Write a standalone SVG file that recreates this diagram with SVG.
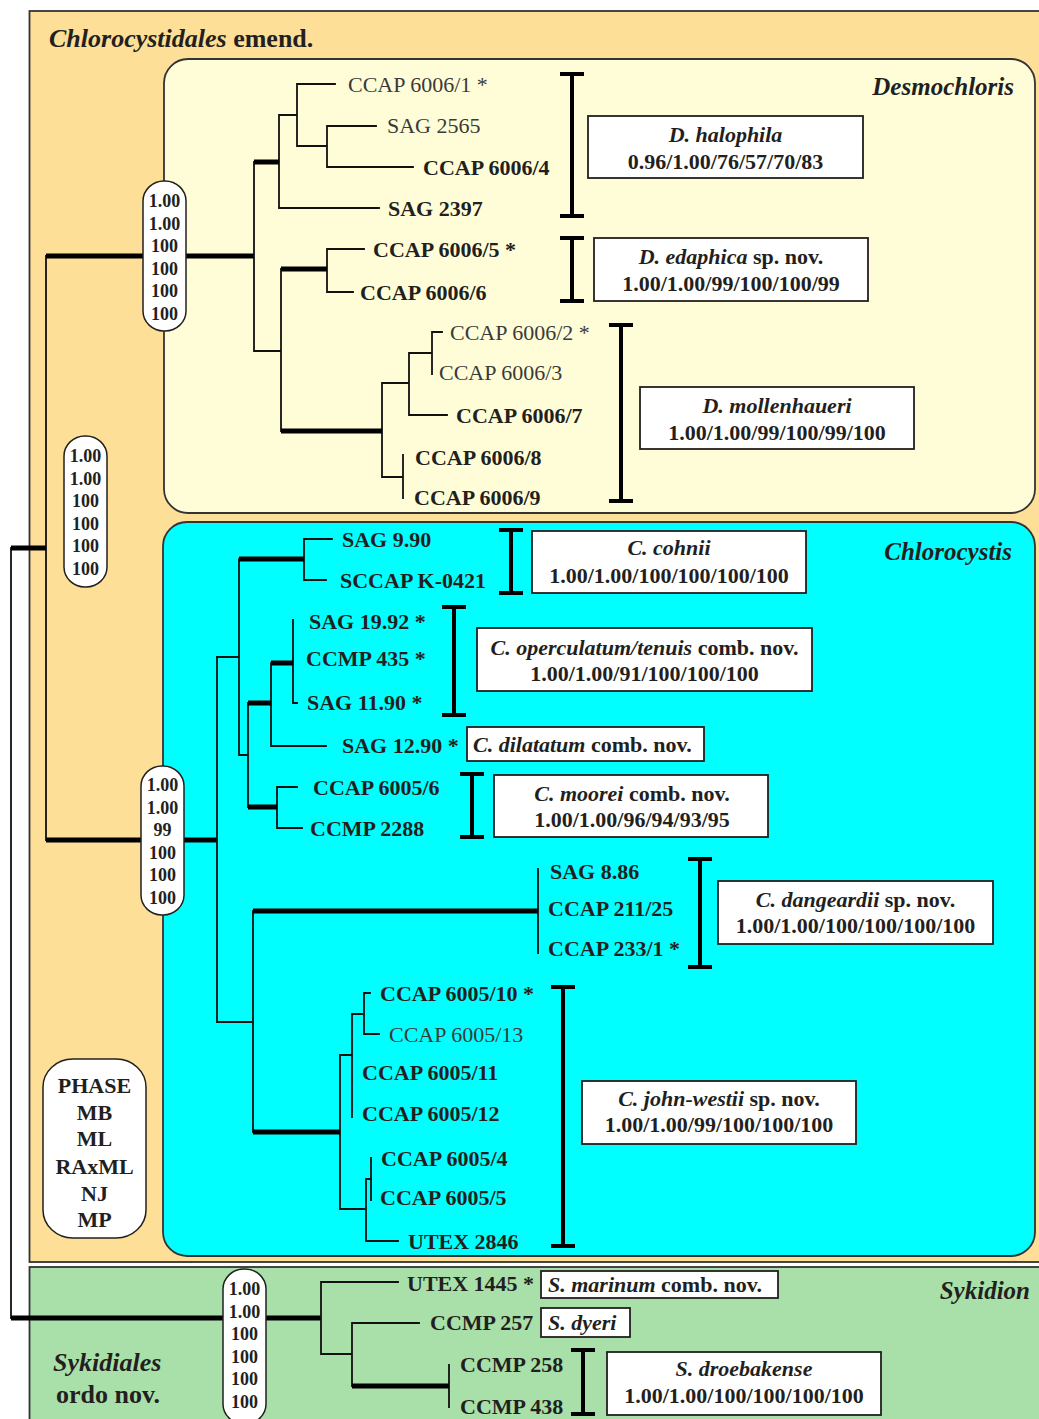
<svg xmlns="http://www.w3.org/2000/svg" width="1039" height="1419" viewBox="0 0 1039 1419">
<style>
.t{font-family:"Liberation Serif","Times New Roman",serif;font-size:22px;fill:#231f20}
.b{font-weight:bold}
.n{font-weight:normal;fill:#3a3a3a}
.bi{font-weight:bold;font-style:italic}
.c{text-anchor:middle}
.e{text-anchor:end}
.big{font-size:26px}
.mid{font-size:25px}
.thin{stroke:#111;stroke-width:1.8;fill:none;stroke-linecap:square}
.thick{stroke:#000;stroke-width:5;fill:none}
.br{stroke:#000;stroke-width:4;fill:none}
.lbl{fill:#fff;stroke:#231f20;stroke-width:1.8}
.sup{fill:#fff;stroke:#231f20;stroke-width:1.5}
.st{font-family:"Liberation Serif","Times New Roman",serif;font-size:18px;font-weight:bold;fill:#231f20;text-anchor:middle}
.cont{stroke:#333;stroke-width:1.8}
</style>
<rect width="1039" height="1419" fill="#fff"/>
<g id="clade-chlorocystidales">
<rect class="cont" x="29.5" y="11" width="1015" height="1251" fill="#FDDF97"/>
<text class="t bi big" x="49" y="47">Chlorocystidales<tspan font-style="normal"> emend.</tspan></text>
</g>
<g id="clade-sykidiales">
<rect class="cont" x="29.5" y="1267" width="1015" height="160" fill="#A9DFA9"/>
<text class="t bi big" x="53" y="1371">Sykidiales</text>
<text class="t b big" x="56" y="1403">ordo nov.</text>
<text class="t bi e mid" x="1030" y="1299">Sykidion</text>
</g>
<g id="clade-desmochloris">
<rect class="cont" x="164" y="59" width="871" height="454" rx="24" fill="#FFFDD7"/>
<text class="t bi e mid" x="1014" y="95">Desmochloris</text>
</g>
<g id="clade-chlorocystis">
<rect class="cont" x="163" y="522" width="872" height="734" rx="24" fill="#00FFFF"/>
<text class="t bi e mid" x="1012" y="560">Chlorocystis</text>
</g>

<g id="connectors">
<path class="thin" d="M11 548V1318M46 256V840"/>
<path class="thick" d="M11 548H46M11 1318H321M46 256H254M46 840H217"/>
<path class="thin" d="M254 162V351M279 115V208M279 115H297M297 84V146M297 84H335M297 146H327M327 126V167M327 126H376M327 167H413M279 208H379M254 351H281M281 269V431M327 249V292M327 249H364M327 292H353M382 383V477M382 383H409M409 353V415M409 353H432M432 332V374M432 332H442M409 415H447M382 477H403M403 455V498"/>
<path class="thick" d="M254 162H279M281 269H327M281 431H382"/>
<path class="thin" d="M217 657V1022M217 657H239M239 559V755M304 539V580M304 539H332M304 580H326M239 755H248M248 703V807M271 663V746M293 620V703M293 703H297M271 746H326M277 787V828M277 787H297M277 828H302M217 1022H253M253 911V1132M538 869V953M340 1055V1209M340 1055H352M352 1014V1117M352 1014H364M364 993V1034M364 993H370M364 1034H379M340 1209H366M366 1179V1241M366 1179H371M371 1158V1200M366 1241H398"/>
<path class="thick" d="M239 559H304M248 703H271M271 663H293M248 807H277M253 911H538M253 1132H340"/>
<path class="thin" d="M321 1282V1354M321 1282H398M321 1354H352M352 1323V1386M352 1323H419M449 1365V1407"/>
<path class="thick" d="M352 1386H449"/>
<path class="br" d="M572 74V216M560 74H584M560 216H584"/>
<path class="br" d="M572 238V301M560 238H584M560 301H584"/>
<path class="br" d="M621 325V501M609 325H633M609 501H633"/>
<path class="br" d="M511 530V593M499 530H523M499 593H523"/>
<path class="br" d="M454 607V715M442 607H466M442 715H466"/>
<path class="br" d="M472 774V837M460 774H484M460 837H484"/>
<path class="br" d="M700 859V967M688 859H712M688 967H712"/>
<path class="br" d="M563 987V1246M551 987H575M551 1246H575"/>
<path class="br" d="M583 1350V1414M571 1350H595M571 1414H595"/>
</g>

<g id="support-desmochloris">
<rect class="sup" x="143" y="181" width="43" height="150" rx="21" ry="20"/>
<text class="st" x="164.5" y="207">1.00</text><text class="st" x="164.5" y="229.5">1.00</text><text class="st" x="164.5" y="252">100</text><text class="st" x="164.5" y="274.5">100</text><text class="st" x="164.5" y="297">100</text><text class="st" x="164.5" y="319.5">100</text>
</g>
<g id="support-chlorocystidales">
<rect class="sup" x="64" y="436" width="43" height="151" rx="21" ry="20"/>
<text class="st" x="85.5" y="462">1.00</text><text class="st" x="85.5" y="484.5">1.00</text><text class="st" x="85.5" y="507">100</text><text class="st" x="85.5" y="529.5">100</text><text class="st" x="85.5" y="552">100</text><text class="st" x="85.5" y="574.5">100</text>
</g>
<g id="support-chlorocystis">
<rect class="sup" x="141" y="766" width="43" height="149" rx="21" ry="20"/>
<text class="st" x="162.5" y="791">1.00</text><text class="st" x="162.5" y="813.5">1.00</text><text class="st" x="162.5" y="836">99</text><text class="st" x="162.5" y="858.5">100</text><text class="st" x="162.5" y="881">100</text><text class="st" x="162.5" y="903.5">100</text>
</g>
<g id="support-sykidion">
<rect class="sup" x="223" y="1269" width="43" height="155" rx="21" ry="20"/>
<text class="st" x="244.5" y="1295">1.00</text><text class="st" x="244.5" y="1317.5">1.00</text><text class="st" x="244.5" y="1340">100</text><text class="st" x="244.5" y="1362.5">100</text><text class="st" x="244.5" y="1385">100</text><text class="st" x="244.5" y="1407.5">100</text>
</g>
<g id="legend">
<rect class="sup" x="43" y="1059" width="103" height="179" rx="30" ry="28"/>
<text class="t b c" x="94.5" y="1093">PHASE</text>
<text class="t b c" x="94.5" y="1120">MB</text>
<text class="t b c" x="94.5" y="1146">ML</text>
<text class="t b c" x="94.5" y="1174">RAxML</text>
<text class="t b c" x="94.5" y="1201">NJ</text>
<text class="t b c" x="94.5" y="1227">MP</text>
</g>

<g id="leaves-desmochloris">
<text class="t n" x="348" y="91.5">CCAP 6006/1 *</text>
<text class="t n" x="387" y="133">SAG 2565</text>
<text class="t b" x="423" y="174.5">CCAP 6006/4</text>
<text class="t b" x="388" y="215.5">SAG 2397</text>
<text class="t b" x="373" y="256.5">CCAP 6006/5 *</text>
<text class="t b" x="360" y="299.5">CCAP 6006/6</text>
<text class="t n" x="450" y="339.5">CCAP 6006/2 *</text>
<text class="t n" x="439" y="379.5">CCAP 6006/3</text>
<text class="t b" x="456" y="422.5">CCAP 6006/7</text>
<text class="t b" x="415" y="464.5">CCAP 6006/8</text>
<text class="t b" x="414" y="504.5">CCAP 6006/9</text>
</g>
<g id="leaves-chlorocystis">
<text class="t b" x="342" y="546.5">SAG 9.90</text>
<text class="t b" x="340" y="587.5">SCCAP K-0421</text>
<text class="t b" x="309" y="628.5">SAG 19.92 *</text>
<text class="t b" x="306" y="665.5">CCMP 435 *</text>
<text class="t b" x="307" y="709.5">SAG 11.90 *</text>
<text class="t b" x="342" y="752.5">SAG 12.90 *</text>
<text class="t b" x="313" y="794.5">CCAP 6005/6</text>
<text class="t b" x="310" y="835.5">CCMP 2288</text>
<text class="t b" x="550" y="879">SAG 8.86</text>
<text class="t b" x="548" y="915.5">CCAP 211/25</text>
<text class="t b" x="548" y="955.5">CCAP 233/1 *</text>
<text class="t b" x="380" y="1000.5">CCAP 6005/10 *</text>
<text class="t n" x="389" y="1041.5">CCAP 6005/13</text>
<text class="t b" x="362" y="1079.5">CCAP 6005/11</text>
<text class="t b" x="362" y="1120.5">CCAP 6005/12</text>
<text class="t b" x="381" y="1165.5">CCAP 6005/4</text>
<text class="t b" x="380" y="1204.5">CCAP 6005/5</text>
<text class="t b" x="408" y="1248.5">UTEX 2846</text>
</g>
<g id="leaves-sykidion">
<text class="t b" x="407" y="1290.5">UTEX 1445 *</text>
<text class="t b" x="430" y="1329.5">CCMP 257</text>
<text class="t b" x="460" y="1372">CCMP 258</text>
<text class="t b" x="460" y="1414">CCMP 438</text>
</g>

<g id="sp-halophila">
<rect class="lbl" x="588" y="116" width="275" height="62"/>
<text class="t bi c" x="725.5" y="142">D. halophila</text>
<text class="t b c" x="725.5" y="169">0.96/1.00/76/57/70/83</text>
</g>
<g id="sp-edaphica">
<rect class="lbl" x="594" y="238" width="274" height="63"/>
<text class="t bi c" x="731" y="264">D. edaphica<tspan font-style="normal"> sp. nov.</tspan></text>
<text class="t b c" x="731" y="291">1.00/1.00/99/100/100/99</text>
</g>
<g id="sp-mollenhaueri">
<rect class="lbl" x="640" y="387" width="274" height="62"/>
<text class="t bi c" x="777" y="413">D. mollenhaueri</text>
<text class="t b c" x="777" y="440">1.00/1.00/99/100/99/100</text>
</g>
<g id="sp-cohnii">
<rect class="lbl" x="532" y="531" width="274" height="62"/>
<text class="t bi c" x="669" y="555">C. cohnii</text>
<text class="t b c" x="669" y="583">1.00/1.00/100/100/100/100</text>
</g>
<g id="sp-operculatum">
<rect class="lbl" x="477" y="628" width="335" height="63"/>
<text class="t bi c" x="644.5" y="655">C. operculatum/tenuis<tspan font-style="normal"> comb. nov.</tspan></text>
<text class="t b c" x="644.5" y="681">1.00/1.00/91/100/100/100</text>
</g>
<g id="sp-dilatatum">
<rect class="lbl" x="467" y="727" width="237" height="34"/>
<text class="t bi" x="473" y="752">C. dilatatum<tspan font-style="normal"> comb. nov.</tspan></text>
</g>
<g id="sp-moorei">
<rect class="lbl" x="494" y="775" width="274" height="62"/>
<text class="t bi c" x="632" y="801">C. moorei<tspan font-style="normal"> comb. nov.</tspan></text>
<text class="t b c" x="632" y="827">1.00/1.00/96/94/93/95</text>
</g>
<g id="sp-dangeardii">
<rect class="lbl" x="718" y="881" width="275" height="63"/>
<text class="t bi c" x="855.5" y="907">C. dangeardii<tspan font-style="normal"> sp. nov.</tspan></text>
<text class="t b c" x="855.5" y="933">1.00/1.00/100/100/100/100</text>
</g>
<g id="sp-john-westii">
<rect class="lbl" x="582" y="1081" width="274" height="63"/>
<text class="t bi c" x="719" y="1106">C. john-westii<tspan font-style="normal"> sp. nov.</tspan></text>
<text class="t b c" x="719" y="1132">1.00/1.00/99/100/100/100</text>
</g>
<g id="sp-marinum">
<rect class="lbl" x="541" y="1271" width="237" height="27"/>
<text class="t bi" x="548" y="1292">S. marinum<tspan font-style="normal"> comb. nov.</tspan></text>
</g>
<g id="sp-dyeri">
<rect class="lbl" x="541" y="1308" width="89" height="29"/>
<text class="t bi" x="548" y="1330">S. dyeri</text>
</g>
<g id="sp-droebakense">
<rect class="lbl" x="607" y="1352" width="274" height="63"/>
<text class="t bi c" x="744" y="1376">S. droebakense</text>
<text class="t b c" x="744" y="1403">1.00/1.00/100/100/100/100</text>
</g>
</svg>
